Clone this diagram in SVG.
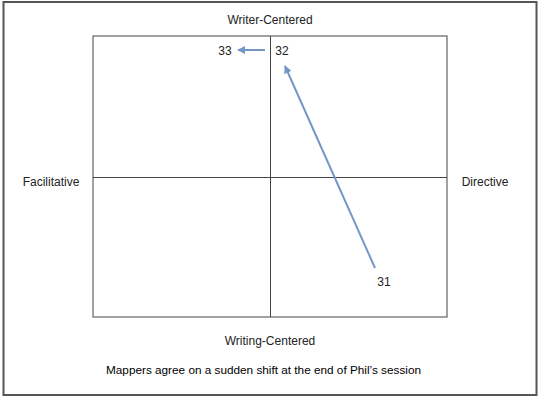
<svg xmlns="http://www.w3.org/2000/svg" width="540" height="399" viewBox="0 0 540 399">
<style>
.lbl{font-family:"Liberation Sans",Arial,sans-serif;font-size:12px;fill:#222}
.cap{font-family:"Liberation Sans",Arial,sans-serif;font-size:11.8px;fill:#000}
.ax{stroke:#444;stroke-width:1;fill:none}
.conn{stroke:#7497c6;stroke-width:2;fill:none}
</style>
<defs>
<marker id="ah" viewBox="0 0 10 10" refX="9" refY="5" markerWidth="4" markerHeight="4" orient="auto-start-reverse" markerUnits="strokeWidth">
<path d="M0,0 L10,5 L0,10 z" fill="#7497c6"/>
</marker>
</defs>
<rect x="0" y="0" width="540" height="399" fill="#fff"/>
<rect x="3.5" y="2" width="533" height="393" fill="none" stroke="#555" stroke-width="2"/>
<g id="grid">
<rect class="ax" x="93" y="36" width="354" height="281"/>
<line class="ax" x1="270.5" y1="36" x2="270.5" y2="317"/>
<line class="ax" x1="93" y1="177.5" x2="447" y2="177.5"/>
</g>
<g id="axis-labels">
<text class="lbl" x="270" y="24" text-anchor="middle">Writer-Centered</text>
<text class="lbl" x="270" y="345" text-anchor="middle">Writing-Centered</text>
<text class="lbl" x="51" y="186" text-anchor="middle">Facilitative</text>
<text class="lbl" x="485" y="186" text-anchor="middle">Directive</text>
</g>
<g id="n33"><text class="lbl" x="225" y="55" text-anchor="middle">33</text></g>
<g id="n32"><text class="lbl" x="282" y="55" text-anchor="middle">32</text></g>
<g id="n31"><text class="lbl" x="384" y="286" text-anchor="middle">31</text></g>
<g id="connectors">
<line class="conn" x1="375" y1="268" x2="285" y2="66" marker-end="url(#ah)"/>
<line class="conn" x1="265" y1="50" x2="238" y2="50" marker-end="url(#ah)"/>
</g>
<text class="cap" x="106" y="374" textLength="315" lengthAdjust="spacingAndGlyphs">Mappers agree on a sudden shift at the end of Phil’s session</text>
</svg>
